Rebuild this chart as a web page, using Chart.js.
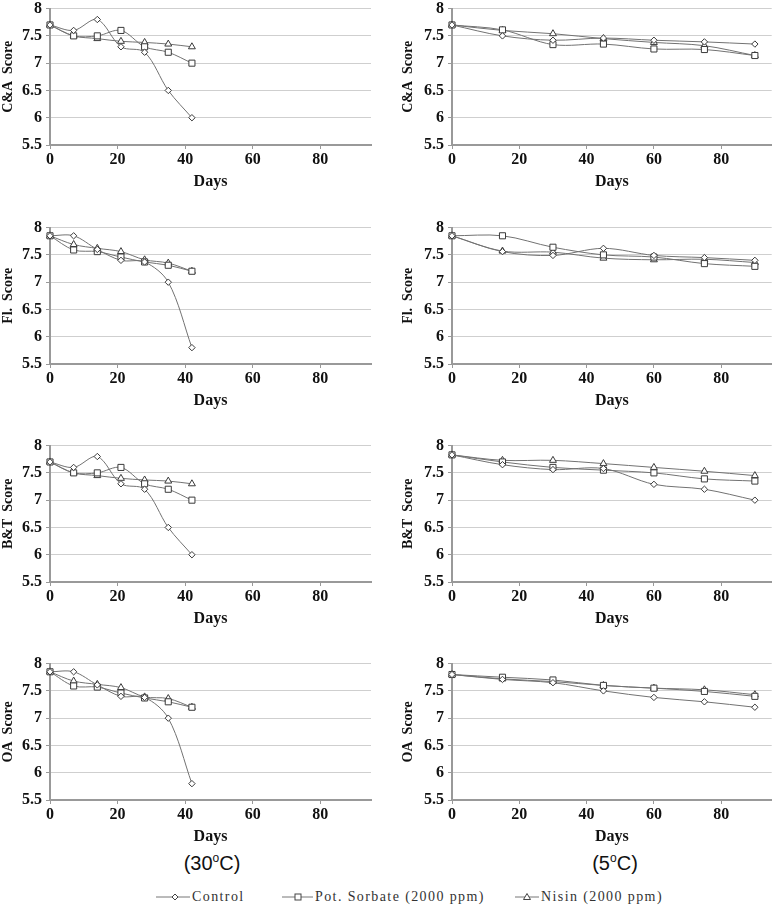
<!DOCTYPE html>
<html>
<head>
<meta charset="utf-8">
<script src="https://cdn.jsdelivr.net/npm/chart.js@4"></script>
<style>
  body { margin: 0; background: #fff; width: 777px; height: 906px; position: relative; overflow: hidden; }
  canvas { position: absolute; }
  .temp { position: absolute; font-family: "Liberation Sans", Arial, sans-serif; font-size: 20px; color: #111; transform: translateX(-50%); }
  .temp sup { font-size: 12px; }
  #legend { position: absolute; top: 889px; left: 0; width: 777px; height: 18px; font-family: "Liberation Serif", serif; font-size: 14px; letter-spacing: 1.4px; color: #333; }
  .item { position: absolute; top: 0; display: flex; align-items: center; }
  .item svg { margin-right: 2px; }
</style>
</head>
<body>
<canvas id="ca30"></canvas>
<canvas id="ca5"></canvas>
<canvas id="fl30"></canvas>
<canvas id="fl5"></canvas>
<canvas id="bt30"></canvas>
<canvas id="bt5"></canvas>
<canvas id="oa30"></canvas>
<canvas id="oa5"></canvas>
<div class="temp" style="left:212px; top:851px;">(30<sup>o</sup>C)</div>
<div class="temp" style="left:615px; top:851px;">(5<sup>o</sup>C)</div>
<div id="legend">
  <div class="item" style="left:156px;">
    <svg width="34" height="12"><line x1="0" y1="6" x2="34" y2="6" stroke="#777" stroke-width="1"/><path d="M19 3 L22 6 L19 9 L16 6 Z" fill="#fff" stroke="#444"/></svg>Control</div>
  <div class="item" style="left:282px;">
    <svg width="31" height="12"><line x1="0" y1="6" x2="31" y2="6" stroke="#777" stroke-width="1"/><rect x="13" y="3" width="6" height="6" fill="#fff" stroke="#444"/></svg>Pot. Sorbate (2000 ppm)</div>
  <div class="item" style="left:515px;">
    <svg width="24" height="12"><line x1="0" y1="6" x2="24" y2="6" stroke="#777" stroke-width="1"/><path d="M12 2.5 L15.5 8.5 L8.5 8.5 Z" fill="#fff" stroke="#444"/></svg>Nisin (2000 ppm)</div>
</div>
<script>
// storage days
const days30 = [0, 7, 14, 21, 28, 35, 42];
const days5 = [0, 15, 30, 45, 60, 75, 90];

// colour & appearance (C&A)
const ca30Control = [7.7, 7.6, 7.8, 7.3, 7.2, 6.5, 6.0];
const ca30Sorbate = [7.7, 7.5, 7.5, 7.6, 7.3, 7.2, 7.0];
const ca30Nisin   = [7.7, 7.5, 7.45, 7.4, 7.38, 7.35, 7.3];
const ca5Control  = [7.7, 7.5, 7.42, 7.46, 7.42, 7.39, 7.35];
const ca5Sorbate  = [7.7, 7.61, 7.34, 7.35, 7.26, 7.25, 7.14];
const ca5Nisin    = [7.7, 7.6, 7.54, 7.45, 7.38, 7.32, 7.14];

// flavour (Fl.)
const fl30Control = [7.85, 7.85, 7.6, 7.4, 7.37, 7.0, 5.8];
const fl30Sorbate = [7.85, 7.59, 7.56, 7.46, 7.37, 7.31, 7.2];
const fl30Nisin   = [7.85, 7.69, 7.62, 7.56, 7.41, 7.35, 7.2];
const fl5Control  = [7.85, 7.56, 7.49, 7.62, 7.49, 7.45, 7.4];
const fl5Sorbate  = [7.85, 7.85, 7.64, 7.5, 7.46, 7.34, 7.29];
const fl5Nisin    = [7.85, 7.57, 7.55, 7.44, 7.41, 7.42, 7.36];

// body & texture (B&T)
const bt30Control = [7.7, 7.6, 7.8, 7.3, 7.2, 6.5, 6.0];
const bt30Sorbate = [7.7, 7.5, 7.5, 7.6, 7.3, 7.2, 7.0];
const bt30Nisin   = [7.7, 7.5, 7.45, 7.4, 7.37, 7.35, 7.3];
const bt5Control  = [7.83, 7.65, 7.56, 7.58, 7.29, 7.2, 7.0];
const bt5Sorbate  = [7.83, 7.7, 7.6, 7.55, 7.5, 7.39, 7.35];
const bt5Nisin    = [7.83, 7.73, 7.73, 7.67, 7.6, 7.53, 7.45];

// overall acceptability (OA)
const oa30Control = [7.85, 7.85, 7.61, 7.4, 7.38, 7.0, 5.8];
const oa30Sorbate = [7.85, 7.59, 7.57, 7.46, 7.37, 7.3, 7.2];
const oa30Nisin   = [7.85, 7.68, 7.62, 7.56, 7.39, 7.36, 7.2];
const oa5Control  = [7.8, 7.71, 7.65, 7.5, 7.38, 7.3, 7.2];
const oa5Sorbate  = [7.8, 7.75, 7.7, 7.6, 7.55, 7.49, 7.4];
const oa5Nisin    = [7.8, 7.72, 7.67, 7.6, 7.55, 7.52, 7.43];

const seriesNames = ['Control', 'Pot. Sorbate (2000 ppm)', 'Nisin (2000 ppm)'];
const markers = ['rectRot', 'rect', 'triangle'];
const markerSize = [3.2, 4.3, 4];

const serif = '"Liberation Serif", "Times New Roman", serif';

function makePanel(id, yTitle, days, series, pos) {
  const cv = document.getElementById(id);
  cv.width = pos.w;
  cv.height = 200;
  cv.style.left = pos.x + 'px';
  cv.style.top = (pos.top - 10) + 'px';
  cv.style.width = pos.w + 'px';
  cv.style.height = '200px';

  const datasets = series.map((vals, i) => ({
    label: seriesNames[i],
    data: days.map((d, j) => ({ x: d, y: vals[j] })),
    borderColor: '#727272',
    borderWidth: 1,
    tension: 0.33,
    pointStyle: markers[i],
    pointRadius: markerSize[i],
    pointBackgroundColor: '#fff',
    pointBorderColor: '#3a3a3a',
    pointBorderWidth: 1,
    clip: false
  }));

  new Chart(cv, {
    type: 'line',
    data: { datasets: datasets },
    options: {
      responsive: false,
      animation: false,
      layout: { padding: { top: 10, left: pos.padLeft, right: pos.padRight, bottom: 0 } },
      plugins: { legend: { display: false }, tooltip: { enabled: false } },
      scales: {
        x: {
          type: 'linear',
          min: 0,
          max: 95,
          ticks: { stepSize: 20, includeBounds: false, padding: 1, color: '#111', font: { family: serif, size: 16, weight: 'bold' } },
          grid: { drawOnChartArea: false, drawTicks: true, tickLength: 4, tickColor: '#999' },
          border: { color: '#999', width: 2 },
          title: { display: true, text: 'Days', color: '#111', padding: { top: 4, bottom: 4 }, font: { family: serif, size: 16, weight: 'bold' } },
          afterFit: (s) => { s.height = 50; }
        },
        y: {
          min: 5.5,
          max: 8,
          ticks: { stepSize: 0.5, padding: 4, color: '#111', font: { family: serif, size: 16, weight: 'bold' }, callback: (v) => String(v) },
          grid: { color: '#cfcfcf', lineWidth: 1, tickLength: 4, tickColor: '#999' },
          border: { color: '#999', width: 2 },
          title: { display: true, text: yTitle, color: '#111', padding: { top: 0, bottom: 0 }, font: { family: serif, size: 14, weight: 'bold' } },
          afterFit: (s) => { s.width = pos.axisW; }
        }
      }
    }
  });
}

const leftCol = { x: 0, w: 390, padLeft: 0, padRight: 19, axisW: 50 };
const rightCol = { x: 390, w: 387, padLeft: 10, padRight: 4, axisW: 52 };
const rowTops = [5, 224, 442, 660];

makePanel('ca30', 'C&A  Score', days30, [ca30Control, ca30Sorbate, ca30Nisin], { ...leftCol, top: rowTops[0] });
makePanel('ca5', 'C&A  Score', days5, [ca5Control, ca5Sorbate, ca5Nisin], { ...rightCol, top: rowTops[0] });
makePanel('fl30', 'Fl.  Score', days30, [fl30Control, fl30Sorbate, fl30Nisin], { ...leftCol, top: rowTops[1] });
makePanel('fl5', 'Fl.  Score', days5, [fl5Control, fl5Sorbate, fl5Nisin], { ...rightCol, top: rowTops[1] });
makePanel('bt30', 'B&T  Score', days30, [bt30Control, bt30Sorbate, bt30Nisin], { ...leftCol, top: rowTops[2] });
makePanel('bt5', 'B&T  Score', days5, [bt5Control, bt5Sorbate, bt5Nisin], { ...rightCol, top: rowTops[2] });
makePanel('oa30', 'OA  Score', days30, [oa30Control, oa30Sorbate, oa30Nisin], { ...leftCol, top: rowTops[3] });
makePanel('oa5', 'OA  Score', days5, [oa5Control, oa5Sorbate, oa5Nisin], { ...rightCol, top: rowTops[3] });
</script>
</body>
</html>
